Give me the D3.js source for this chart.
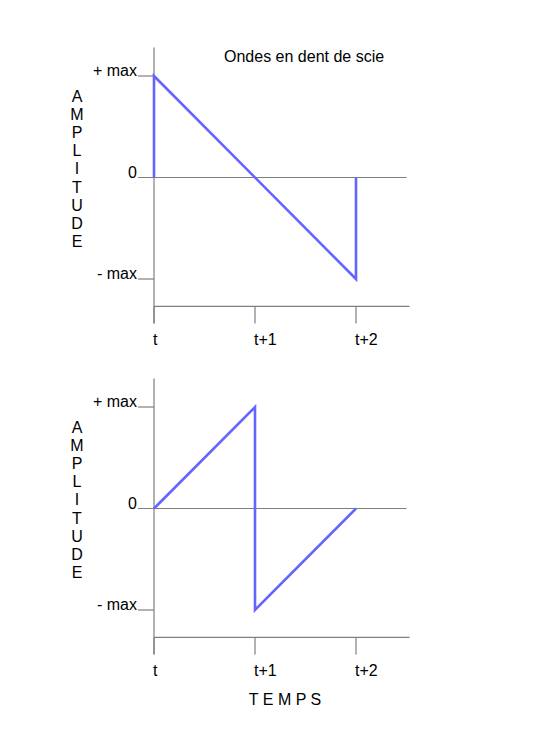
<!DOCTYPE html>
<html><head><meta charset="utf-8">
<script src="https://cdn.jsdelivr.net/npm/d3@7"></script>
<style>
body{margin:0;background:#fff;}
text{font-family:"Liberation Sans",Arial,sans-serif;font-size:16px;fill:#000;}
</style></head>
<body>
<svg id="c" width="534" height="756"></svg>
<script>
const title = "Ondes en dent de scie";
const xTicks = [0, 1, 2];
const xTickLabels = ["t", "t+1", "t+2"];
const yTicks = [1, 0, -1];
const yTickLabels = ["+ max", "0", "- max"];
const yAxisLetters = ["A","M","P","L","I","T","U","D","E"];
const xAxisTitle = "T E M P S";
// Waveform 1: vertical rise, linear fall, vertical reset
const wave1X = [0, 0, 2, 2];
const wave1Y = [0, 1, -1, 0];
// Waveform 2: linear rise, vertical drop, linear rise
const wave2X = [0, 1, 1, 2];
const wave2Y = [0, 1, -1, 0];

const svg = d3.select("#c");
const gray = "#7f7f7f";
const blue = "#6464ff";

const x = d3.scaleLinear().domain([0, 2]).range([154, 356]);

function panel(top, xs, ys, showTitle, showXTitle) {
  const y = d3.scaleLinear().domain([1, -1]).range([top, top + 203]);
  const g = svg.append("g");
  const yTop = y(1.28), yBottom = y(-1.27), tickEnd = yBottom + 17;
  g.append("line").attr("x1", x(0)).attr("x2", x(0)).attr("y1", yTop).attr("y2", tickEnd)
    .attr("stroke", gray).attr("stroke-width", 1.2);
  g.append("line").attr("x1", x(0)).attr("x2", x(2.53)).attr("y1", yBottom).attr("y2", yBottom)
    .attr("stroke", gray).attr("stroke-width", 1.2);
  xTicks.forEach((t, i) => {
    g.append("line").attr("x1", x(t)).attr("x2", x(t)).attr("y1", yBottom).attr("y2", tickEnd)
      .attr("stroke", gray).attr("stroke-width", 1.2);
    g.append("text").attr("x", x(t) - 1).attr("y", tickEnd + 22).text(xTickLabels[i]);
  });
  yTicks.forEach((v, i) => {
    const xEnd = v === 0 ? x(2.5) : x(0);
    g.append("line").attr("x1", 138).attr("x2", xEnd).attr("y1", y(v)).attr("y2", y(v))
      .attr("stroke", gray).attr("stroke-width", 1.2);
    g.append("text").attr("x", 137).attr("y", y(v)).attr("text-anchor", "end").text(yTickLabels[i]);
  });
  yAxisLetters.forEach((l, i) => {
    g.append("text").attr("x", 77).attr("y", y(1) + 26 + i * 18.1)
      .attr("text-anchor", "middle").text(l);
  });
  const line = d3.line().x(d => x(d[0])).y(d => y(d[1]));
  g.append("path").datum(xs.map((v, i) => [v, ys[i]])).attr("d", line)
    .attr("fill", "none").attr("stroke", blue).attr("stroke-width", 2.6)
    .attr("stroke-linejoin", "miter");
  if (showTitle) {
    g.append("text").attr("x", 224).attr("y", 62).text(title);
  }
  if (showXTitle) {
    g.append("text").attr("x", 285).attr("y", 705).attr("text-anchor", "middle").text(xAxisTitle);
  }
}

panel(76, wave1X, wave1Y, true, false);
panel(407, wave2X, wave2Y, false, true);
</script>
</body></html>
